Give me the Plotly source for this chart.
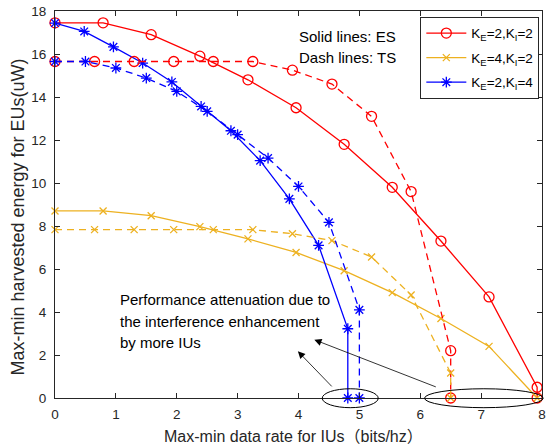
import plotly.graph_objects as go

# ---- data ----
x_es_22 = [0, 0.79, 1.58, 2.38, 3.17, 3.96, 4.75, 5.54, 6.34, 7.13, 7.92, 7.92]
y_es_22 = [17.45, 17.45, 16.9, 15.9, 14.8, 13.5, 11.8, 9.8, 7.3, 4.7, 0.5, 0]
x_ts_22 = [0, 0.65, 1.3, 1.95, 2.6, 3.25, 3.9, 4.55, 5.2, 5.85, 6.5, 6.5]
y_ts_22 = [15.65, 15.65, 15.65, 15.65, 15.65, 15.65, 15.25, 14.6, 13.1, 9.6, 2.2, 0]

x_es_42 = [0, 0.79, 1.58, 2.38, 3.17, 3.96, 4.75, 5.54, 6.34, 7.13, 7.92]
y_es_42 = [8.7, 8.7, 8.48, 7.97, 7.4, 6.77, 5.92, 4.9, 3.7, 2.4, 0]
x_ts_42 = [0, 0.65, 1.3, 1.95, 2.6, 3.25, 3.9, 4.55, 5.2, 5.85, 6.5, 6.5]
y_ts_42 = [7.83, 7.83, 7.83, 7.83, 7.83, 7.83, 7.64, 7.32, 6.56, 4.79, 1.16, 0]

x_es_24 = [0, 0.48, 0.96, 1.44, 1.92, 2.4, 2.89, 3.37, 3.85, 4.33, 4.81, 4.81]
y_es_24 = [17.44, 17.05, 16.33, 15.58, 14.7, 13.56, 12.43, 11.04, 9.26, 7.1, 3.22, 0]
x_ts_24 = [0, 0.5, 1.0, 1.5, 2.0, 2.5, 3.0, 3.5, 4.0, 4.5, 5.0, 5.0]
y_ts_24 = [15.65, 15.65, 15.35, 14.88, 14.26, 13.33, 12.25, 11.16, 9.84, 8.17, 4.1, 0]

legend_names = ["K<sub>E</sub>=2,K<sub>I</sub>=2",
                "K<sub>E</sub>=4,K<sub>I</sub>=2",
                "K<sub>E</sub>=2,K<sub>I</sub>=4"]
x_ticks = [0, 1, 2, 3, 4, 5, 6, 7, 8]
y_ticks = [0, 2, 4, 6, 8, 10, 12, 14, 16, 18]
x_range = [0, 8]
y_range = [0, 18]

RED = "#FF0000"
YEL = "#EDB120"
BLU = "#0000FF"
FONT = "Liberation Sans, Arial, Noto Sans CJK SC, sans-serif"
AX = "#262626"
DASH = "7px,5px"

fig = go.Figure()

def add(x, y, color, symbol, size, dash, name, show, group):
    fig.add_trace(go.Scatter(
        x=x, y=y, mode="lines+markers", name=name, showlegend=show,
        legendgroup=group,
        line=dict(color=color, width=1.3, dash=dash),
        marker=dict(symbol=symbol, size=size, color=color,
                    line=dict(color=color, width=1.3)),
        cliponaxis=False))

add(x_es_22, y_es_22, RED, "circle-open", 10, "solid", legend_names[0], True, "g1")
add(x_es_42, y_es_42, YEL, "x-thin-open", 7, "solid", legend_names[1], True, "g2")
add(x_es_24, y_es_24, BLU, "asterisk-open", 9, "solid", legend_names[2], True, "g3")
add(x_ts_22, y_ts_22, RED, "circle-open", 10, DASH, legend_names[0], False, "g1")
add(x_ts_42, y_ts_42, YEL, "x-thin-open", 7, DASH, legend_names[1], False, "g2")
add(x_ts_24, y_ts_24, BLU, "asterisk-open", 9, DASH, legend_names[2], False, "g3")

axis_common = dict(showline=True, linecolor=AX, linewidth=1, mirror="ticks",
                   ticks="inside", ticklen=5, tickcolor=AX, tickwidth=1,
                   showgrid=False, zeroline=False,
                   tickfont=dict(family=FONT, size=13.5, color=AX))
fig.update_xaxes(range=x_range, tickvals=x_ticks, ticklabelstandoff=4, **axis_common)
fig.update_yaxes(range=y_range, tickvals=y_ticks, ticklabelstandoff=5, **axis_common)

# ellipses (in domain units so they are not clipped)
def to_dom(v, r):
    return (v - r[0]) / (r[1] - r[0])

ellipses = [(4.39, 5.31, -0.45, 0.43), (6.07, 8.02, -0.45, 0.43)]
for ex0, ex1, ey0, ey1 in ellipses:
    fig.add_shape(type="circle", xref="x domain", yref="y domain",
                  x0=to_dom(ex0, x_range), x1=to_dom(ex1, x_range),
                  y0=to_dom(ey0, y_range), y1=to_dom(ey1, y_range),
                  line=dict(color="black", width=1), layer="above")

# arrows
arrows = [((3.99, 2.17), (4.57, 0.47)), ((4.26, 2.71), (6.28, 0.49))]
for (hx, hy), (tx, ty) in arrows:
    fig.add_annotation(x=hx, y=hy, ax=tx, ay=ty, axref="x", ayref="y",
                       xref="x", yref="y", text="", showarrow=True,
                       arrowhead=2, arrowsize=1.8, arrowwidth=0.8,
                       arrowcolor="black", standoff=0, startstandoff=0)

# text notes
notes = [("Solid lines: ES", 3.975, 16.8), ("Dash lines: TS", 3.975, 15.84),
         ("Performance attenuation due to", 1.034, 4.57),
         ("the interference enhancement", 1.034, 3.56),
         ("by more IUs", 1.034, 2.59)]
for t, nx, ny in notes:
    fig.add_annotation(x=nx, y=ny, xref="x", yref="y", text=t, showarrow=False,
                       xanchor="left", yanchor="middle",
                       font=dict(family=FONT, size=15, color="black"))

# axis titles
fig.add_annotation(text="Max-min data rate for IUs（bits/hz）", xref="paper", yref="paper",
                   x=0.49, y=-0.1, xanchor="center", yanchor="middle", showarrow=False,
                   font=dict(family=FONT, size=16, color=AX))
fig.add_annotation(text="Max-min harvested energy for EUs(uW)", xref="paper", yref="paper",
                   x=-0.0754, y=0.467, xanchor="center", yanchor="middle", showarrow=False,
                   textangle=-90, font=dict(family=FONT, size=18, color=AX))

fig.update_layout(
    width=550, height=445,
    margin=dict(l=55, r=4, t=11, b=47),
    paper_bgcolor="white", plot_bgcolor="white",
    font=dict(family=FONT, color=AX),
    legend=dict(x=0.9945, y=0.985, xanchor="right", yanchor="top",
                bgcolor="white", bordercolor=AX, borderwidth=1,
                font=dict(family=FONT, size=13.5, color="black"),
                itemwidth=40, tracegroupgap=4),
)

fig.write_html("out.html", config={"displayModeBar": False},
               post_script="document.body.style.margin='0px';document.body.style.overflow='hidden';")
